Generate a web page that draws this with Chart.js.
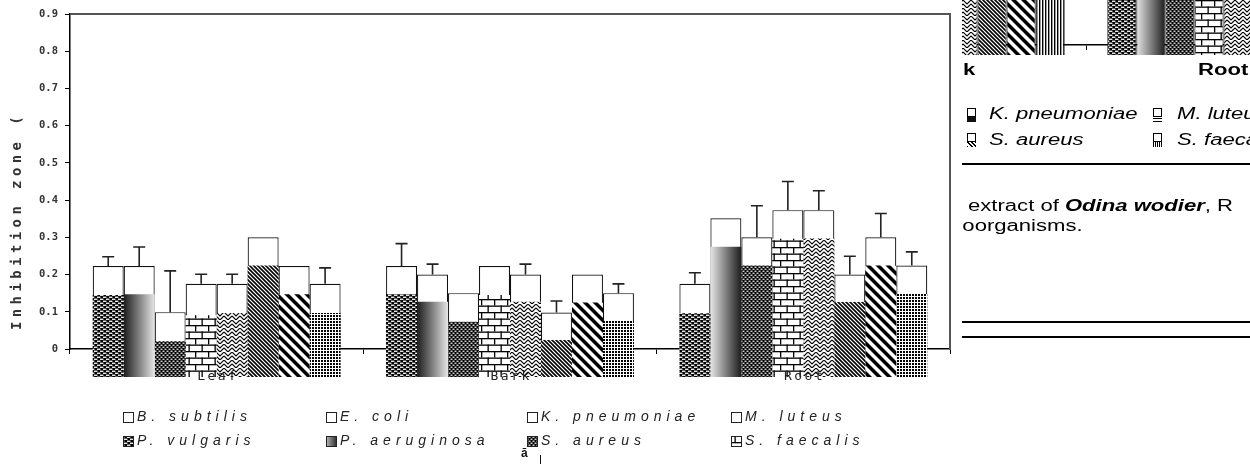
<!DOCTYPE html>
<html>
<head>
<meta charset="utf-8">
<script src="https://cdn.jsdelivr.net/npm/chart.js@4.4.1/dist/chart.umd.min.js"></script>
<style>
  html, body { margin: 0; padding: 0; background: #fff; }
  #wrap { position: relative; width: 1250px; height: 464px; overflow: hidden; background: #fff; }
  #main { position: absolute; left: 0; top: 0; }
  #strip { position: absolute; left: 962px; top: 0; width: 288px; height: 56px; overflow: hidden; }
  #strip canvas { position: absolute; left: -151px; top: 0; }
  #side { position: absolute; left: 962px; top: 56px; width: 288px; height: 408px; overflow: hidden; }
  .t { position: absolute; font: 16px "Liberation Sans", Arial, sans-serif; line-height: 16px;
       transform: scaleX(1.38); transform-origin: 0 0; white-space: nowrap; color: #000; }
  .b { font-weight: bold; }
  .i { font-style: italic; }
  .rule { position: absolute; left: 0; width: 288px; background: #000; }
  .sw { position: absolute; width: 7px; height: 7px; border: 1.3px solid #000; background: #fff; }
  .swp { position: absolute; width: 9px; height: 5px; }
  #mark { position: absolute; left: 521px; top: 446px; font: bold 12px "Liberation Sans", Arial, sans-serif; color: #111; }
  #tick { position: absolute; left: 540px; top: 455px; width: 1.2px; height: 9px; background: #111; }
</style>
</head>
<body>
<div id="wrap">
  <canvas id="main" width="1250" height="464"></canvas>
  <div id="strip"><canvas id="stripChart" width="550" height="56"></canvas></div>
  <div id="side">
    <div class="t b" style="left:1px; top:6px;">k</div>
    <div class="t b" style="left:236px; top:6px;">Root</div>

    <div class="sw" style="left:5px; top:52px;"></div>
    <div class="swp" style="left:5px; top:61px; background: radial-gradient(#fff 35%, transparent 36%) 0 0/2px 2px, #111;"></div>
    <div class="t i" style="left:27px; top:50px;">K. pneumoniae</div>
    <div class="sw" style="left:191px; top:52px;"></div>
    <div class="swp" style="left:191px; top:61px; background: repeating-linear-gradient(0deg, #000 0 1px, #fff 1px 3px);"></div>
    <div class="t i" style="left:215px; top:50px;">M. luteus</div>

    <div class="sw" style="left:5px; top:77px;"></div>
    <div class="swp" style="left:5px; top:86px; background: repeating-linear-gradient(45deg, #000 0 1.4px, #fff 1.4px 3px);"></div>
    <div class="t i" style="left:27px; top:76px;">S. aureus</div>
    <div class="sw" style="left:191px; top:77px;"></div>
    <div class="swp" style="left:191px; top:86px; background: repeating-linear-gradient(90deg, #000 0 1px, #fff 1px 2px);"></div>
    <div class="t i" style="left:215px; top:76px;">S. faecalis</div>

    <div class="rule" style="top:107px; height:1.5px;"></div>

    <div class="t" style="left:6px; top:142px;">extract of <b><i>Odina wodier</i></b>, R</div>
    <div class="t" style="left:-7px; top:162px;">roorganisms.</div>

    <div class="rule" style="top:265px; height:1.5px;"></div>
    <div class="rule" style="top:280px; height:2px;"></div>
  </div>
  <div id="mark">ā</div>
  <div id="tick"></div>
</div>

<script>
// ---------------- data ----------------
const categories = ['Leaf', 'Bark', 'Root'];
const organisms = ['B. subtilis', 'E. coli', 'K. pneumoniae', 'M. luteus',
                   'P. vulgaris', 'P. aeruginosa', 'S. aureus', 'S. faecalis'];
const yTicks = [0, 0.1, 0.2, 0.3, 0.4, 0.5, 0.6, 0.7, 0.8, 0.9];

// total inhibition zone (open bars), one value per organism
const leafTotal = [0.223, 0.223, 0.099, 0.175, 0.175, 0.300, 0.223, 0.175];
const barkTotal = [0.223, 0.200, 0.150, 0.223, 0.200, 0.098, 0.200, 0.150];
const rootTotal = [0.175, 0.351, 0.300, 0.373, 0.373, 0.200, 0.300, 0.224];

// standard deviation of the total (null: not reported)
const leafSD = [0.025, 0.051, 0.111, 0.026, 0.026, null, null, 0.043];
const barkSD = [0.060, 0.028, null, null, 0.028, 0.031, null, 0.025];
const rootSD = [0.030, null, 0.085, 0.077, 0.052, 0.049, 0.064, 0.037];

// hatched (filled) part of each bar
const leafFill = [0.145, 0.147, 0.021, 0.091, 0.097, 0.224, 0.147, 0.097];
const barkFill = [0.147, 0.127, 0.073, 0.145, 0.127, 0.024, 0.125, 0.075];
const rootFill = [0.096, 0.275, 0.224, 0.296, 0.297, 0.126, 0.224, 0.148];

// the hatched fills start a little below the zero line
const FILL_FLOOR = -0.075;

// upper panel: only the foot of these bars is in view
const stripCategories = ['Bark', 'Root'];
const stripBarkFill = [null, null, null, null, 0.42, 0.42, 0.42, 0.42];
const stripRootFill = [0.42, 0.42, 0.42, 0.42, 0.42, null, null, null];

// ---------------- fills ----------------
function tile(w, h, paint) {
  const c = document.createElement('canvas');
  c.width = w; c.height = h;
  const g = c.getContext('2d');
  g.fillStyle = '#fff'; g.fillRect(0, 0, w, h);
  paint(g, w, h);
  return c;
}
const tiles = {
  dashes: tile(6, 4, (g, w, h) => {
    g.fillStyle = '#000'; g.fillRect(0, 0, w, h);
    g.fillStyle = '#fff';
    g.fillRect(1, 0.6, 3.4, 1.3); g.fillRect(4, 2.6, 3.4, 1.3); g.fillRect(-2, 2.6, 3.4, 1.3);
  }),
  dots: tile(4, 4, (g, w, h) => {
    g.fillStyle = '#000'; g.fillRect(0, 0, w, h);
    g.fillStyle = '#fff';
    g.fillRect(0.5, 0.6, 2, 1.2); g.fillRect(2.5, 2.6, 2, 1.2); g.fillRect(-1.5, 2.6, 2, 1.2);
  }),
  brick: tile(13, 13, (g) => {
    g.fillStyle = '#000';
    g.fillRect(0, 0, 13, 1.3); g.fillRect(0, 6.5, 13, 1.3);
    g.fillRect(0, 0, 1.3, 6.5); g.fillRect(6.5, 6.5, 1.3, 6.5);
  }),
  weave: tile(8, 8, (g) => {
    g.strokeStyle = '#000'; g.lineWidth = 1.1;
    g.beginPath();
    g.moveTo(0, 0); g.lineTo(4, 4); g.lineTo(8, 0);
    g.moveTo(0, 4); g.lineTo(4, 8); g.lineTo(8, 4);
    g.stroke();
  }),
  fineDiag: tile(4, 4, (g) => {
    g.strokeStyle = '#000'; g.lineWidth = 1.6;
    g.beginPath();
    g.moveTo(-1, -1); g.lineTo(5, 5);
    g.moveTo(-3, 1); g.lineTo(1, 5);
    g.moveTo(3, -1); g.lineTo(5, 1);
    g.stroke();
  }),
  boldDiag: tile(10, 10, (g) => {
    g.fillStyle = '#000';
    for (const k of [-10, 0, 10]) {
      g.beginPath();
      g.moveTo(k, 0); g.lineTo(k + 5, 0); g.lineTo(k + 15, 10); g.lineTo(k + 10, 10);
      g.closePath(); g.fill();
    }
  }),
  check: tile(3, 3, (g) => {
    g.fillStyle = '#000';
    g.fillRect(0, 0, 2, 2);
  }),
  vlines: tile(3, 3, (g) => {
    g.fillStyle = '#000'; g.fillRect(0, 0, 1.4, 3);
  })
};
const patternCtx = document.createElement('canvas').getContext('2d');
const patterns = {};
for (const k in tiles) patterns[k] = patternCtx.createPattern(tiles[k], 'repeat');

const fillKinds = ['dashes', 'gradient', 'dots', 'brick', 'weave', 'fineDiag', 'boldDiag', 'check'];
const stripKinds = ['dashes', 'gradient', 'dots', 'brick', 'weave', 'fineDiag', 'boldDiag', 'vlines'];
const GREY_LIGHT = '#e6e6e6', GREY_DARK = '#1c1c1c';

// ---------------- plugins ----------------
const gradientPlugin = {
  id: 'shadedBars',
  beforeDatasetDraw(chart, args) {
    const ds = chart.data.datasets[args.index];
    if (!ds.gradientDir) return;
    args.meta.data.forEach((el, j) => {
      const l = el.x - el.width / 2, r = el.x + el.width / 2;
      const g = chart.ctx.createLinearGradient(l, 0, r, 0);
      const s = ds.gradientDir[j] > 0 ? [GREY_LIGHT, GREY_DARK] : [GREY_DARK, GREY_LIGHT];
      g.addColorStop(0, s[0]); g.addColorStop(1, s[1]);
      el.options.backgroundColor = g;
    });
  }
};

const framePlugin = {
  id: 'frame',
  beforeDatasetsDraw(chart) {
    const { ctx, chartArea: a } = chart;
    ctx.save();
    ctx.strokeStyle = '#555'; ctx.lineWidth = 2;
    ctx.beginPath();
    ctx.moveTo(a.left, a.top); ctx.lineTo(a.right, a.top); ctx.lineTo(a.right, a.bottom + 1);
    ctx.stroke();
    ctx.restore();
  }
};

const errorBarPlugin = {
  id: 'errorBars',
  afterDatasetsDraw(chart) {
    const { ctx, scales, chartArea: a } = chart;
    ctx.save();
    ctx.strokeStyle = '#222'; ctx.lineWidth = 1.6;
    chart.data.datasets.forEach((ds, i) => {
      if (!ds.sd) return;
      chart.getDatasetMeta(i).data.forEach((el, j) => {
        const sd = ds.sd[j];
        if (sd == null) return;
        const top = scales.y.getPixelForValue(ds.data[j] + sd);
        ctx.beginPath();
        ctx.moveTo(el.x, el.y); ctx.lineTo(el.x, top);
        ctx.moveTo(el.x - 6, top); ctx.lineTo(el.x + 6, top);
        ctx.stroke();
      });
    });
    ctx.restore();

    // category names, written across the hatched feet of the bars
    ctx.save();
    ctx.fillStyle = '#222';
    ctx.font = '13px "DejaVu Sans Mono"';
    ctx.letterSpacing = '2.5px';
    ctx.textAlign = 'center'; ctx.textBaseline = 'middle';
    categories.forEach((c, i) => ctx.fillText(c, scales.x.getPixelForValue(i) + 1.2, a.bottom + 28));
    ctx.restore();
  }
};

const legendCols = [123, 326, 527, 731];
const legendRows = [417, 441];
const legendPlugin = {
  id: 'gridLegend',
  afterDraw(chart) {
    const ctx = chart.ctx;
    ctx.save();
    // y-axis title
    ctx.translate(17, 221);
    ctx.rotate(-Math.PI / 2);
    ctx.font = 'bold 14px "DejaVu Sans Mono"';
    ctx.letterSpacing = '4.4px';
    ctx.fillStyle = '#333';
    ctx.textAlign = 'center'; ctx.textBaseline = 'middle';
    ctx.fillText('Inhibition zone (', 0, 0);
    ctx.restore();

    ctx.save();
    ctx.font = 'italic 14px "Liberation Sans"';
    ctx.letterSpacing = '5px';
    ctx.textBaseline = 'middle';
    organisms.forEach((name, k) => {
      const x = legendCols[k % 4], y = legendRows[Math.floor(k / 4)];
      const kind = k < 4 ? 'open' : fillKinds[k - 4];
      if (kind === 'gradient') {
        const g = ctx.createLinearGradient(x, 0, x + 10, 0);
        g.addColorStop(0, '#bbb'); g.addColorStop(1, '#333');
        ctx.fillStyle = g;
      } else {
        ctx.fillStyle = kind === 'open' ? '#fff' : patterns[kind];
      }
      ctx.fillRect(x, y - 5, 10, 10);
      ctx.strokeStyle = '#222'; ctx.lineWidth = 1;
      ctx.strokeRect(x + 0.5, y - 4.5, 10, 10);
      ctx.fillStyle = '#222';
      ctx.fillText(name, x + 14, y + 0.5);
    });
    ctx.restore();
  }
};

// ---------------- main chart ----------------
const totals = [leafTotal, barkTotal, rootTotal];
const sds = [leafSD, barkSD, rootSD];
const fills = [leafFill, barkFill, rootFill];

const openSets = organisms.map((name, i) => ({
  label: name,
  stack: 'p' + i,
  order: 1,
  data: totals.map(a => a[i]),
  sd: sds.map(a => a[i]),
  backgroundColor: '#fff',
  borderColor: '#111',
  borderWidth: 1.2
}));
const hatchSets = organisms.map((name, i) => {
  const kind = fillKinds[i];
  return {
    label: name,
    stack: 'p' + i,
    order: 0,
    clip: false,
    data: fills.map(a => [FILL_FLOOR, a[i]]),
    backgroundColor: kind === 'gradient' ? () => '#888' : patterns[kind],
    gradientDir: kind === 'gradient' ? [-1, -1, 1] : undefined,
    borderWidth: 0
  };
});

new Chart(document.getElementById('main'), {
  type: 'bar',
  data: { labels: categories, datasets: [...openSets, ...hatchSets] },
  options: {
    responsive: false,
    animation: false,
    events: [],
    layout: { padding: { left: 0, top: 14, right: 300, bottom: 95 } },
    plugins: { legend: { display: false }, tooltip: { enabled: false } },
    datasets: { bar: { categoryPercentage: 0.845, barPercentage: 1.0 } },
    scales: {
      x: {
        grid: { offset: true, drawOnChartArea: false, tickLength: 5, color: '#000', lineWidth: 1 },
        border: { color: '#000', width: 1.5 },
        ticks: { display: false },
        afterFit: s => { s.height = 20; }
      },
      y: {
        stacked: false,
        min: 0, max: 0.9,
        afterBuildTicks: s => { s.ticks = yTicks.map(v => ({ value: v })); },
        ticks: {
          font: { family: '"DejaVu Sans Mono"', size: 10.5, weight: 'bold' },
          color: '#333',
          padding: 7,
          callback: v => (v === 0 ? '0' : v.toFixed(1))
        },
        grid: { drawOnChartArea: false, tickLength: 5, color: '#000', lineWidth: 1 },
        border: { color: '#000', width: 1.5 },
        afterFit: s => { s.width = 70; }
      }
    }
  },
  plugins: [gradientPlugin, framePlugin, errorBarPlugin, legendPlugin]
});

// ---------------- upper panel strip ----------------
const stripFills = [stripBarkFill, stripRootFill];
const stripSets = organisms.map((name, i) => {
  const kind = stripKinds[i];
  return {
    label: name,
    stack: 'p' + i,
    clip: false,
    data: stripFills.map(a => (a[i] == null ? null : [FILL_FLOOR, a[i]])),
    backgroundColor: kind === 'gradient' ? () => '#888' : patterns[kind],
    gradientDir: kind === 'gradient' ? [1, 1] : undefined,
    borderColor: '#000',
    borderWidth: { left: 1, right: 1, top: 0, bottom: 0 },
    borderSkipped: false
  };
});

new Chart(document.getElementById('stripChart'), {
  type: 'bar',
  data: { labels: stripCategories, datasets: stripSets },
  options: {
    responsive: false,
    animation: false,
    events: [],
    layout: { padding: 0 },
    plugins: { legend: { display: false }, tooltip: { enabled: false } },
    datasets: { bar: { categoryPercentage: 0.845, barPercentage: 1.0 } },
    scales: {
      x: {
        z: 1,
        grid: { offset: true, drawOnChartArea: false, tickLength: 5, color: '#000', lineWidth: 1 },
        border: { color: '#000', width: 1.5 },
        ticks: { display: false },
        afterFit: s => { s.height = 11; }
      },
      y: { display: false, stacked: false, min: 0, max: 0.34 }
    }
  },
  plugins: [gradientPlugin]
});
</script>
</body>
</html>
